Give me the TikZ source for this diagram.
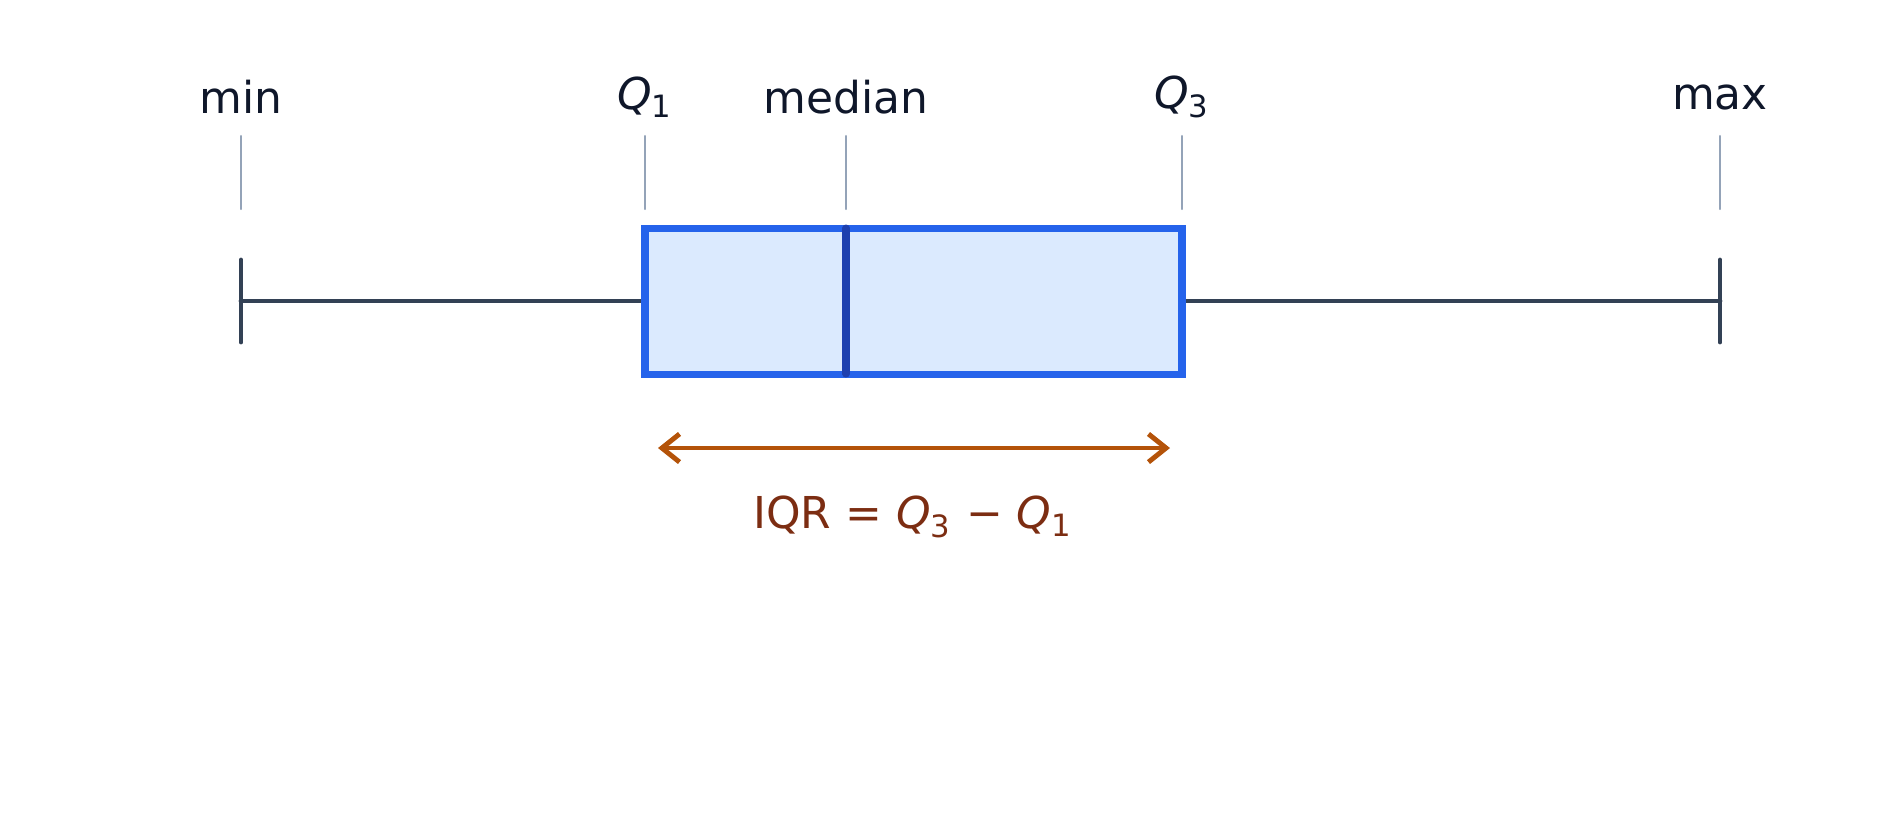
\documentclass[tikz,border=0pt]{standalone}
\usepackage{fontspec}
\setmainfont{DejaVu Sans}
\usetikzlibrary{arrows.meta}
\definecolor{ink}{HTML}{0F172A}
\definecolor{tickc}{HTML}{94A3B8}
\definecolor{whisk}{HTML}{334155}
\definecolor{boxline}{HTML}{2563EB}
\definecolor{boxfill}{HTML}{DBEAFE}
\definecolor{medc}{HTML}{1E40AF}
\definecolor{arrc}{HTML}{B45309}
\definecolor{iqrc}{HTML}{7C2D12}
\newcommand{\qq}[1]{\textit{Q}\textsubscript{#1}}

\begin{document}
\begin{tikzpicture}[
        lbl/.style={text=ink, font=\fontsize{12.5}{14}\selectfont, inner sep=0pt},
        tick/.style={draw=tickc, line width=0.6pt, line cap=round},
        whisker/.style={draw=whisk, line width=1.4pt, line cap=round},
    ]
    \useasboundingbox (0,0) rectangle (18.96,-8.3);

    \coordinate (lo) at (2.41,-3.01);
    \coordinate (hi) at (17.20,-3.01);

    \node[lbl] (min) at (2.41,-0.97) {min};
    \node[lbl] (q1) at (6.45,-0.97) {\qq{1}};
    \node[lbl] (med) at (8.46,-0.97) {median};
    \node[lbl] (q3) at (11.82,-0.97) {\qq{3}};
    \node[lbl] (max) at (17.20,-0.97) {max};

    \foreach \x in {2.41,6.45,8.46,11.82,17.20}
        \draw[tick] (\x,-1.36) -- (\x,-2.09);

    \draw[whisker] (2.41,-2.6) -- (2.41,-3.42);
    \draw[whisker] (17.20,-2.6) -- (17.20,-3.42);
    \draw[whisker] (lo) -- (6.45,-3.01);
    \draw[whisker] (11.82,-3.01) -- (hi);

    \draw[draw=boxline, fill=boxfill, line width=2pt] (6.45,-2.28) rectangle (11.82,-3.74);
    \draw[draw=medc, line width=2pt, line cap=round] (8.46,-2.28) -- (8.46,-3.74);

    \coordinate (a1) at (6.58,-4.48);
    \coordinate (a2) at (11.70,-4.48);
    \draw[arrc, line width=1.4pt, {Straight Barb[length=5pt,width=8pt]}-{Straight Barb[length=5pt,width=8pt]}] (a1) -- (a2);

    \node[lbl, text=iqrc] (iqr) at (9.13,-5.17) {IQR = \qq{3} − \qq{1}};
\end{tikzpicture}
\end{document}
